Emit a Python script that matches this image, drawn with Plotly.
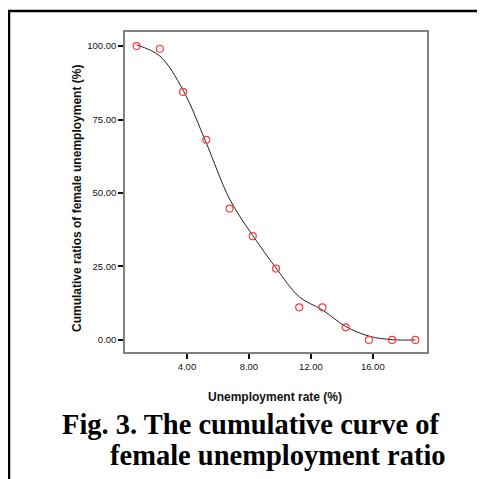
import plotly.graph_objects as go

# Data
unemployment_rate = [0.75, 2.25, 3.75, 5.25, 6.75, 8.25, 9.75, 11.25, 12.75, 14.25, 15.75, 17.25, 18.75]
cumulative_ratio = [100.0, 99.1, 84.4, 68.1, 44.7, 35.3, 24.3, 11.1, 11.1, 4.3, 0.0, 0.0, 0.0]
fitted_curve = [100.4, 96.6, 85.0, 67.0, 48.0, 35.5, 24.5, 14.7, 10.2, 4.6, 1.3, 0.1, 0.0]

y_ticks = [0, 25, 50, 75, 100]
x_ticks = [4, 8, 12, 16]

OFF = 8  # browser body margin
W, H = 485 - OFF, 479 - OFF
# plot area in page pixels (reference)
L, R, T, B = 125, 427, 32, 352
pw, ph = R - L, B - T

def px(x):
    return (x - L) / pw

def py(y):
    return (B - y) / ph

fig = go.Figure()
fig.add_trace(go.Scatter(
    x=unemployment_rate, y=fitted_curve, mode="lines",
    line=dict(color="#222222", width=1, shape="spline", smoothing=1.0),
    hoverinfo="skip", showlegend=False))
fig.add_trace(go.Scatter(
    x=unemployment_rate, y=cumulative_ratio, mode="markers",
    marker=dict(symbol="circle-open", size=7, color="#ff3b3b", line=dict(width=1.2, color="#ff3b3b")),
    showlegend=False))

axis_font = dict(family="Arial, Liberation Sans, sans-serif", size=9.5, color="#111111")

fig.update_xaxes(range=[0, 19.5], tickvals=x_ticks, tickformat=".2f",
                 showgrid=False, zeroline=False, showline=True, linecolor="#808080", linewidth=1.5,
                 mirror=True, ticks="outside", ticklen=5, tickwidth=2, tickcolor="#111111",
                 tickfont=axis_font)
fig.update_yaxes(range=[-4.1, 104.8], tickvals=y_ticks, tickformat=".2f",
                 showgrid=False, zeroline=False, showline=True, linecolor="#808080", linewidth=1.5,
                 mirror=True, ticks="outside", ticklen=5, tickwidth=2, tickcolor="#111111",
                 tickfont=axis_font)

title_font = dict(family="Arial, Liberation Sans, sans-serif", size=12, color="#111111")
cap_font = dict(family="Times New Roman, Liberation Serif, serif", size=28.5, color="#000000")

annotations = [
    dict(text="<b>Unemployment rate (%)</b>", x=px(274.5), y=py(397), xref="paper", yref="paper",
         showarrow=False, font=title_font, xanchor="center", yanchor="middle"),
    dict(text="<b>Cumulative ratios of female unemployment (%)</b>", x=px(77), y=py(199),
         xref="paper", yref="paper", showarrow=False, font=title_font, textangle=-90,
         xanchor="center", yanchor="middle"),
    dict(text="<b>Fig. 3. The cumulative curve of</b>", x=px(60), y=py(424), xref="paper", yref="paper",
         showarrow=False, font=cap_font, xanchor="left", yanchor="middle"),
    dict(text="<b>female unemployment ratio</b>", x=px(108), y=py(455), xref="paper", yref="paper",
         showarrow=False, font=cap_font, xanchor="left", yanchor="middle"),
]

shapes = [
    dict(type="line", xref="paper", yref="paper", x0=px(9), x1=px(9), y0=py(10), y1=py(490),
         line=dict(color="#000000", width=2.5)),
    dict(type="line", xref="paper", yref="paper", x0=px(8), x1=px(483), y0=py(11), y1=py(11),
         line=dict(color="#000000", width=2.5)),
]

fig.update_layout(
    width=W, height=H,
    margin=dict(l=L - OFF, r=W - (R - OFF), t=T - OFF, b=H - (B - OFF), pad=0),
    paper_bgcolor="white", plot_bgcolor="white",
    annotations=annotations, shapes=shapes,
)

fig.write_html("out.html")
